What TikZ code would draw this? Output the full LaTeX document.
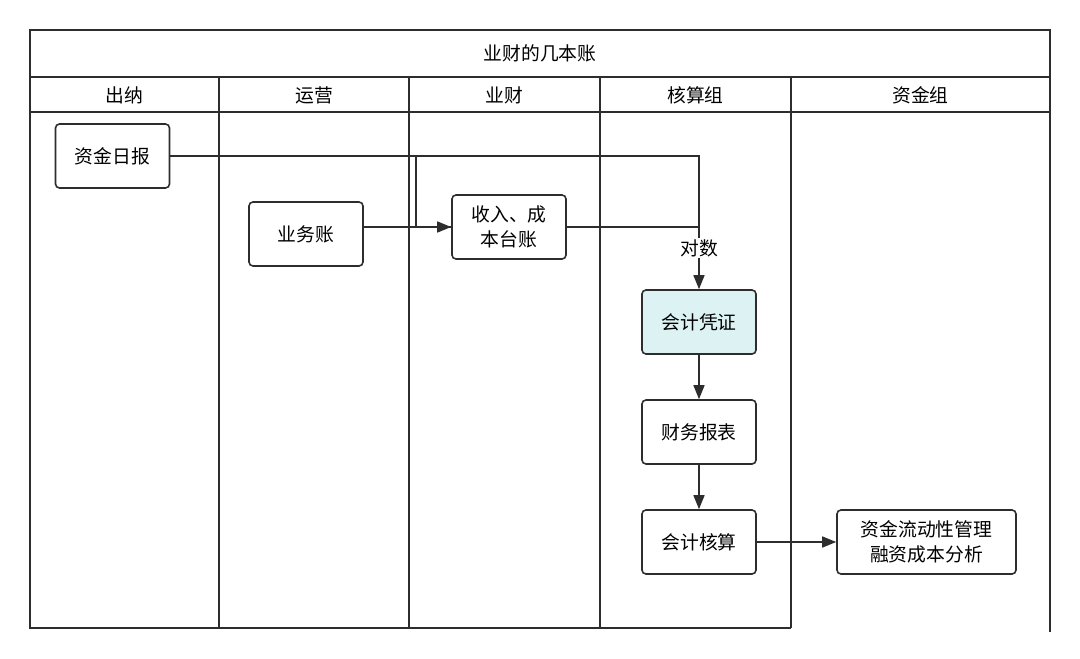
\documentclass[tikz,border=0pt]{standalone}
\usepackage{fontspec}
\newfontfamily\cjk{Noto Sans CJK SC}
\usetikzlibrary{arrows.meta}
\definecolor{ln}{RGB}{45,45,45}
\definecolor{pzfill}{RGB}{221,243,243}
\begin{document}
\begin{tikzpicture}[x=1pt,y=-1pt,
  frame/.style={draw=ln, line width=1.8pt},
  box/.style={draw=ln, line width=1.6pt, rounded corners=4pt, fill=white, minimum width=114pt, minimum height=64pt, align=center, font=\cjk\fontsize{18.8}{25}\selectfont, inner sep=0pt},
  lbl/.style={font=\cjk\fontsize{18.8}{22}\selectfont, inner sep=1pt},
  conn/.style={draw=ln, line width=1.5pt},
  arr/.style={draw=ln, line width=1.5pt, -{Triangle[length=14pt,width=11pt]}}]
\useasboundingbox (0,0) rectangle (1080,659);
% frame
\draw[frame] (30,628) -- (30,30) -- (1050,30) -- (1050,632);
\draw[frame] (29.1,628) -- (791,628);
\draw[frame] (30,77) -- (1050,77);
\draw[frame] (30,112) -- (1050,112);
\foreach \x in {219,409,600,791} \draw[frame] (\x,77) -- (\x,628);
% headers
\node[lbl] (title) at (540,53) {业财的几本账};
\node[lbl] (h1) at (124.5,95) {出纳};
\node[lbl] (h2) at (314,95) {运营};
\node[lbl] (h3) at (504.5,95) {业财};
\node[lbl] (h4) at (695.5,95) {核算组};
\node[lbl] (h5) at (920.5,95) {资金组};
% nodes
\node[box] (rb) at (112.5,156) {资金日报};
\node[box] (yw) at (306,234) {业务账};
\node[box] (sr) at (509,227) {收入、成\\本台账};
\node[box, fill=pzfill] (pz) at (699,322) {会计凭证};
\node[box] (bb) at (699,432) {财务报表};
\node[box] (hs) at (699,542) {会计核算};
\node[box, minimum width=179pt] (zj) at (926.5,542) {资金流动性管理\\融资成本分析};
% connectors
\coordinate (br) at (416,0);
\draw[arr] (rb.east) -- (pz.north |- rb.east) -- (pz.north);
\draw[arr] (rb.east) -- (br |- rb.east) -- (br |- sr.west) -- (sr.west);
\draw[conn] (yw.east |- sr.west) -- (sr.west);
\draw[conn] (sr.east) -- (pz.north |- sr.east);
\node[lbl, fill=white] (ds) at (699,248) {对数};
\draw[arr] (pz) -- (bb);
\draw[arr] (bb) -- (hs);
\draw[arr] (hs) -- (zj);
\end{tikzpicture}
\end{document}
